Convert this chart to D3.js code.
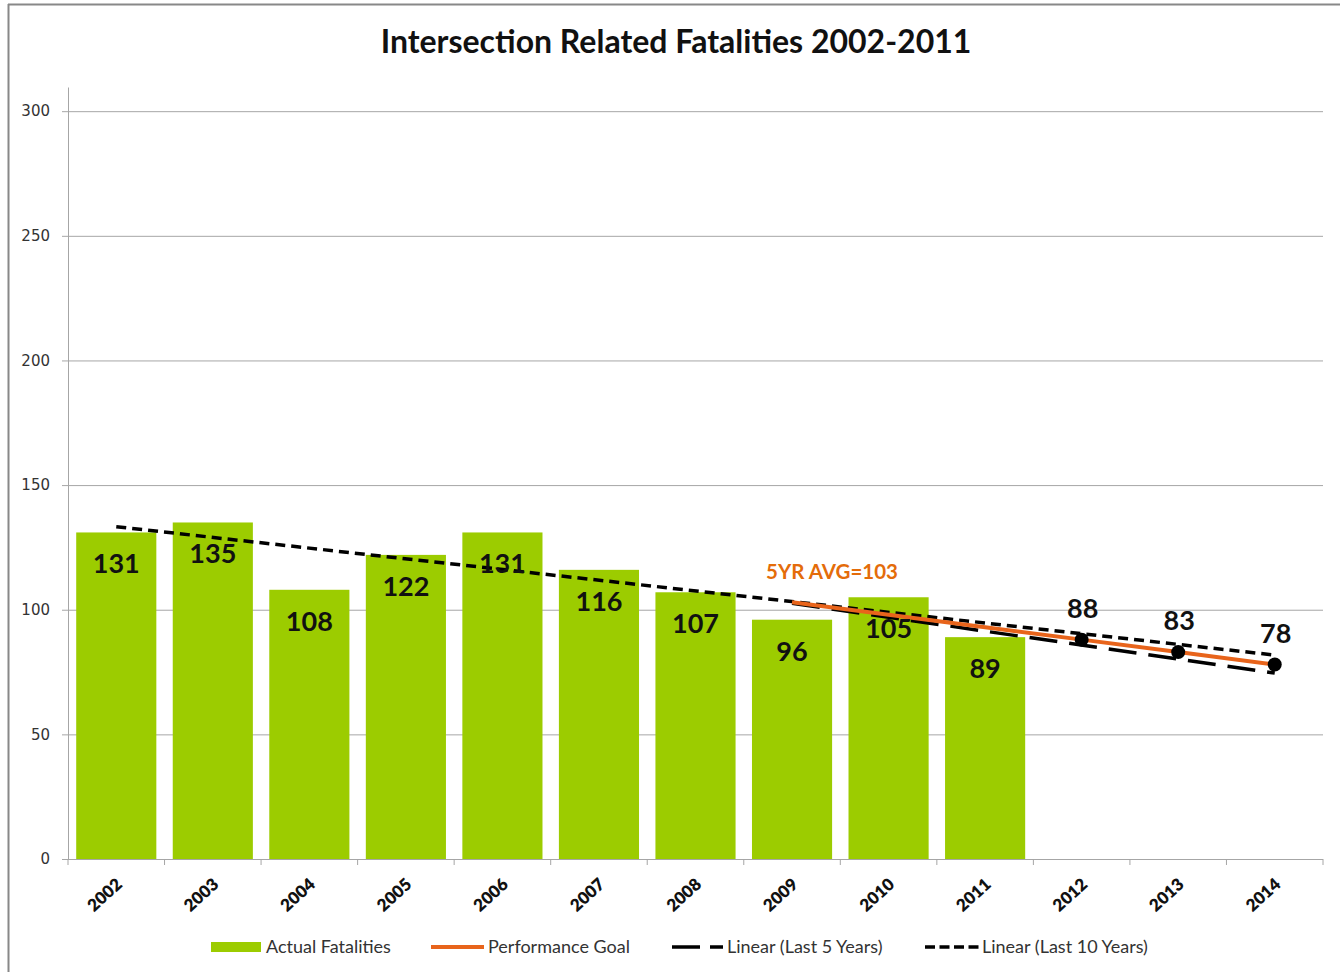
<!DOCTYPE html>
<html><head><meta charset="utf-8">
<script src="https://cdn.jsdelivr.net/npm/d3@7/dist/d3.min.js"></script>
<style>
html,body{margin:0;padding:0;background:#fff;}
svg{display:block;}
</style>
</head><body>
<svg id="chart" width="1340" height="972"></svg>
<script>
const years = ["2002","2003","2004","2005","2006","2007","2008","2009","2010","2011","2012","2013","2014"];
const actualYears = ["2002","2003","2004","2005","2006","2007","2008","2009","2010","2011"];
const actualValues = [131,135,108,122,131,116,107,96,105,89];
const goalYears = ["2009","2010","2011","2012","2013","2014"];
const goalValues = [103,98,93,88,83,78];
const goalLabelYears = ["2012","2013","2014"];
const goalLabelValues = [88,83,78];
const trend10Years = ["2002","2014"];
const trend10Values = [133.3,81.8];
const trend5Years = ["2009","2014"];
const trend5Values = [102.6,74.6];
const yTicks = [0,50,100,150,200,250,300];
const title = "Intersection Related Fatalities 2002-2011";
const avgLabel = "5YR AVG=103";
const legendLabels = ["Actual Fatalities","Performance Goal","Linear (Last 5 Years)","Linear (Last 10 Years)"];

const svg = d3.select("#chart");
const W = 1340, H = 972;
const m = {left:68, right:1323, top:87, bottom:859};

const green = "#9ccc00";
const orange = "#e8641b";
const calibri = "Lato, 'Open Sans', sans-serif";

// frame
svg.append("line").attr("x1",8).attr("x2",W).attr("y1",4.5).attr("y2",4.5).attr("stroke","#888").attr("stroke-width",2);
svg.append("line").attr("x1",8.5).attr("x2",8.5).attr("y1",4).attr("y2",H).attr("stroke","#888").attr("stroke-width",2);

const x = d3.scaleBand().domain(years).range([m.left, m.right]).paddingInner(0.17).paddingOuter(0.085);
const xc = d => x(d) + x.bandwidth()/2;
const y = d3.scaleLinear().domain([0,309.7]).range([m.bottom, m.top]);

// title
svg.append("text").attr("x",676).attr("y",53).attr("text-anchor","middle")
  .style("font-family",calibri).style("font-weight","700").style("font-size","32px").attr("fill","#111").text(title);

// gridlines
const yAxis = d3.axisLeft(y).tickValues(yTicks.filter(v=>v>0)).tickSize(-(m.right-m.left)).tickFormat("");
svg.append("g").attr("transform",`translate(${m.left},0)`).call(yAxis)
  .call(g=>g.select(".domain").remove())
  .call(g=>g.selectAll(".tick line").attr("stroke","#a6a6a6").attr("stroke-width",1));

// y axis with ticks and labels
const yAxis2 = d3.axisLeft(y).tickValues(yTicks).tickSize(6).tickPadding(12).tickSizeOuter(0);
svg.append("g").attr("transform",`translate(${m.left},0)`).call(yAxis2)
  .call(g=>g.select(".domain").attr("stroke","#a6a6a6"))
  .call(g=>g.selectAll(".tick line").attr("stroke","#a6a6a6"))
  .call(g=>g.selectAll(".tick text").style("font-family","'DejaVu Sans', Verdana, sans-serif").style("font-size","15px").attr("fill","#333"));

// bars
svg.append("g").selectAll("rect").data(actualYears).join("rect")
  .attr("x",d=>x(d)).attr("width",x.bandwidth())
  .attr("y",(d,i)=>y(actualValues[i])).attr("height",(d,i)=>y(0)-y(actualValues[i]))
  .attr("fill",green);

// x axis baseline + ticks between categories
svg.append("line").attr("x1",m.left).attr("x2",m.right).attr("y1",y(0)+0.5).attr("y2",y(0)+0.5).attr("stroke","#a6a6a6");
const tickPos = d3.range(years.length+1).map(i => m.left + i*(m.right-m.left)/years.length);
svg.append("g").selectAll("line").data(tickPos).join("line")
  .attr("x1",d=>d).attr("x2",d=>d).attr("y1",y(0)).attr("y2",y(0)+6).attr("stroke","#a6a6a6");

// x labels
svg.append("g").selectAll("text").data(years).join("text")
  .attr("transform",d=>`translate(${xc(d)+7},${y(0)+27}) rotate(-42)`)
  .attr("text-anchor","end")
  .style("font-family",calibri).style("font-weight","800").style("font-size","17px").attr("fill","#111")
  .text(d=>d);

// trend lines
const line = d3.line().x(d=>xc(d[0])).y(d=>y(d[1]));
svg.append("path").attr("d",line(trend10Years.map((d,i)=>[d,trend10Values[i]])))
  .attr("fill","none").attr("stroke","#000").attr("stroke-width",3.5).attr("stroke-dasharray","10,6");
svg.append("path").attr("d",line(trend5Years.map((d,i)=>[d,trend5Values[i]])))
  .attr("fill","none").attr("stroke","#000").attr("stroke-width",3.5).attr("stroke-dasharray","28,12");

// goal line
svg.append("path").attr("d",line(goalYears.map((d,i)=>[d,goalValues[i]])))
  .attr("fill","none").attr("stroke",orange).attr("stroke-width",4);
svg.append("g").selectAll("circle").data(goalLabelYears).join("circle")
  .attr("cx",d=>xc(d)).attr("cy",(d,i)=>y(goalLabelValues[i])).attr("r",7).attr("fill","#000");

// bar labels
svg.append("g").selectAll("text").data(actualYears).join("text")
  .attr("x",d=>xc(d)).attr("y",(d,i)=>y(actualValues[i])+41)
  .attr("text-anchor","middle")
  .style("font-family",calibri).style("font-weight","700").style("font-size","27px").attr("fill","#111")
  .text((d,i)=>actualValues[i]);

// goal labels
svg.append("g").selectAll("text").data(goalLabelYears).join("text")
  .attr("x",d=>xc(d)+1).attr("y",(d,i)=>y(goalLabelValues[i])-22)
  .attr("text-anchor","middle")
  .style("font-family",calibri).style("font-weight","700").style("font-size","27px").attr("fill","#111")
  .text((d,i)=>goalLabelValues[i]);

// avg label
svg.append("text").attr("x",832).attr("y",579).attr("text-anchor","middle")
  .style("font-family",calibri).style("font-weight","700").style("font-size","20.5px").attr("fill","#e46c0a")
  .text(avgLabel);

// legend
const lg = svg.append("g").style("font-family",calibri).style("font-size","18px").attr("fill","#333");
const ly = 947;
lg.append("rect").attr("x",211).attr("y",ly-5).attr("width",50).attr("height",10).attr("fill",green);
lg.append("text").attr("x",266).attr("y",ly+6).text(legendLabels[0]);
lg.append("line").attr("x1",431).attr("x2",484).attr("y1",ly).attr("y2",ly).attr("stroke",orange).attr("stroke-width",4);
lg.append("text").attr("x",488).attr("y",ly+6).text(legendLabels[1]);
lg.append("line").attr("x1",672).attr("x2",723).attr("y1",ly).attr("y2",ly).attr("stroke","#000").attr("stroke-width",3.5).attr("stroke-dasharray","28,10");
lg.append("text").attr("x",727).attr("y",ly+6).text(legendLabels[2]);
lg.append("line").attr("x1",925).attr("x2",979).attr("y1",ly).attr("y2",ly).attr("stroke","#000").attr("stroke-width",3.5).attr("stroke-dasharray","10,4.5");
lg.append("text").attr("x",982).attr("y",ly+6).text(legendLabels[3]);
</script>
</body></html>
